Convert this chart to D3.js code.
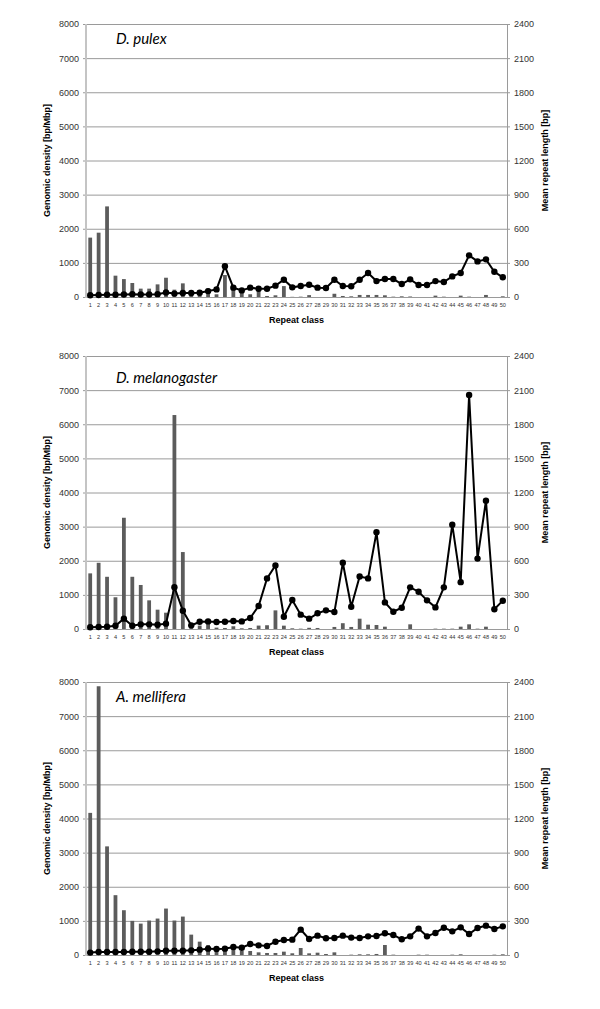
<!DOCTYPE html>
<html>
<head>
<meta charset="utf-8">
<script src="https://d3js.org/d3.v7.min.js"></script>
<style>
body { margin: 0; background: #fff; }
</style>
</head>
<body>
<div id="chart"></div>
<script>
// repeat classes on the x axis
var repeatClasses = [1,2,3,4,5,6,7,8,9,10,11,12,13,14,15,16,17,18,19,20,21,22,23,24,25,
	26,27,28,29,30,31,32,33,34,35,36,37,38,39,40,41,42,43,44,45,46,47,48,49,50];

var densityTicks = [0,1000,2000,3000,4000,5000,6000,7000,8000];
var lengthTicks = [0,300,600,900,1200,1500,1800,2100,2400];

var speciesNames = ["D. pulex", "D. melanogaster", "A. mellifera"];

// genomic density [bp/Mbp] (bars) and mean repeat length [bp] (line)
var pulexDensity = [1740,1885,2655,625,525,410,245,245,370,565,215,400,60,60,245,80,645,250,150,80,
	195,30,50,320,5,10,55,0,0,95,30,20,60,60,60,50,10,20,15,0,0,40,10,0,40,10,0,60,0,20];
var pulexLength = [15,18,20,20,22,25,22,22,25,40,30,35,35,38,52,67,270,82,58,82,
	73,73,100,152,85,97,108,82,79,152,97,94,152,211,140,158,158,114,155,105,105,140,132,181,211,366,313,331,222,173];

var melDensity = [1630,1940,1530,930,3260,1530,1290,840,566,478,6270,2255,50,100,150,40,30,80,20,30,
	100,110,546,98,20,10,35,30,0,60,170,60,302,127,117,68,0,0,137,0,0,10,10,10,68,137,10,68,0,0];
var melLength = [15,18,20,29,91,29,41,41,38,47,368,161,32,64,67,61,64,70,67,97,
	202,445,559,108,255,126,91,138,164,149,582,196,462,445,850,234,152,187,366,328,252,190,366,917,412,2057,619,1128,173,249];

var melliferaDensity = [4165,7875,3183,1753,1312,1000,920,1009,1068,1361,1009,1126,597,391,293,215,186,215,117,117,
	78,59,59,98,50,205,49,68,29,78,0,10,20,20,30,293,10,0,0,10,10,0,0,10,20,0,0,0,10,20];
var melliferaLength = [21,26,26,26,26,29,29,29,32,38,38,38,41,47,56,53,56,70,64,97,
	85,79,117,132,135,223,141,170,147,150,170,153,150,164,167,191,176,138,164,232,164,194,240,208,243,185,238,258,229,252];

var width = 600;
var height = 1009;
var left = 86;
var right = 507;
var plotHeight = 273;
var font = "'Liberation Sans', Arial, sans-serif";

var svg = d3.select("#chart")
	.append("svg")
	.attr("width", width)
	.attr("height", height)
	.style("font-family", font);

drawPanel(24, speciesNames[0], pulexDensity, pulexLength, 20);
drawPanel(356, speciesNames[1], melDensity, melLength, 27);
drawPanel(682, speciesNames[2], melliferaDensity, melliferaLength, 20);

function drawPanel(top, name, density, length, labelDy)
{
	var bottom = top + plotHeight;
	var g = svg.append("g");

	var xScale = d3.scaleBand()
		.domain(repeatClasses)
		.range([left, right])
		.paddingInner(0.55)
		.paddingOuter(0.275);

	var xPoint = function(d){ return xScale(d) + xScale.bandwidth() / 2; };

	var yLeft = d3.scaleLinear()
		.domain([0, 8000])
		.range([bottom, top]);

	var yRight = d3.scaleLinear()
		.domain([0, 2400])
		.range([bottom, top]);

	//gridlines
	g.selectAll(".grid")
		.data(densityTicks)
		.enter().append("line")
		.attr("x1", left - 3)
		.attr("x2", right + 3)
		.attr("y1", function(d){ return yLeft(d) + 0.5; })
		.attr("y2", function(d){ return yLeft(d) + 0.5; })
		.attr("stroke", "#9a9a9a")
		.attr("stroke-width", 1);

	//left axis labels
	var leftAxis = d3.axisLeft(yLeft).tickValues(densityTicks).tickFormat(d3.format("d")).tickSize(0).tickPadding(7);
	var la = g.append("g")
		.attr("transform", "translate(" + left + ",0)")
		.call(leftAxis);
	la.attr("font-family", font);
	la.select(".domain").remove();
	la.selectAll("text").attr("font-size", 9).attr("fill", "#333");

	//right axis labels
	var rightAxis = d3.axisRight(yRight).tickValues(lengthTicks).tickFormat(d3.format("d")).tickSize(0).tickPadding(7);
	var ra = g.append("g")
		.attr("transform", "translate(" + right + ",0)")
		.call(rightAxis);
	ra.attr("font-family", font);
	ra.select(".domain").remove();
	ra.selectAll("text").attr("font-size", 9).attr("fill", "#333");

	//axis lines
	g.append("line")
		.attr("x1", left).attr("x2", left)
		.attr("y1", top).attr("y2", bottom + 1)
		.attr("stroke", "#c4c4c4")
		.attr("stroke-width", 2);
	g.append("line")
		.attr("x1", right + 0.5).attr("x2", right + 0.5)
		.attr("y1", top).attr("y2", bottom + 1)
		.attr("stroke", "#9a9a9a")
		.attr("stroke-width", 1);

	//x labels
	var xAxis = d3.axisBottom(xScale).tickSize(0).tickPadding(6);
	var xa = g.append("g")
		.attr("transform", "translate(0," + bottom + ")")
		.call(xAxis);
	xa.attr("font-family", font);
	xa.select(".domain").remove();
	xa.selectAll("text").attr("font-size", 5.6).attr("fill", "#333");

	//bars
	g.selectAll(".bar")
		.data(density)
		.enter().append("rect")
		.attr("x", function(d, i){ return xScale(repeatClasses[i]); })
		.attr("y", function(d){ return yLeft(d); })
		.attr("width", xScale.bandwidth())
		.attr("height", function(d){ return bottom - yLeft(d); })
		.attr("fill", "#5c5c5c");

	//mean length line
	var line = d3.line()
		.x(function(d, i){ return xPoint(repeatClasses[i]); })
		.y(function(d){ return yRight(d); });

	g.append("path")
		.datum(length)
		.attr("d", line)
		.attr("fill", "none")
		.attr("stroke", "#000")
		.attr("stroke-width", 2);

	g.selectAll(".dot")
		.data(length)
		.enter().append("circle")
		.attr("cx", function(d, i){ return xPoint(repeatClasses[i]); })
		.attr("cy", function(d){ return yRight(d); })
		.attr("r", 3.2)
		.attr("fill", "#000");

	//axis titles
	g.append("text")
		.attr("transform", "translate(50," + (top + plotHeight / 2) + ") rotate(-90)")
		.attr("text-anchor", "middle")
		.attr("font-size", 9)
		.attr("font-weight", "bold")
		.text("Genomic density [bp/Mbp]");

	g.append("text")
		.attr("transform", "translate(548," + (top + plotHeight / 2) + ") rotate(-90)")
		.attr("text-anchor", "middle")
		.attr("font-size", 9)
		.attr("font-weight", "bold")
		.text("Mean repeat length [bp]");

	g.append("text")
		.attr("x", (left + right) / 2)
		.attr("y", bottom + 26)
		.attr("text-anchor", "middle")
		.attr("font-size", 9)
		.attr("font-weight", "bold")
		.text("Repeat class");

	//species name
	g.append("text")
		.attr("x", 116)
		.attr("y", top + labelDy)
		.attr("font-size", 15)
		.attr("font-style", "italic")
		.style("font-family", "Lato, 'Open Sans', sans-serif")
		.text(name);
}
</script>
</body>
</html>
